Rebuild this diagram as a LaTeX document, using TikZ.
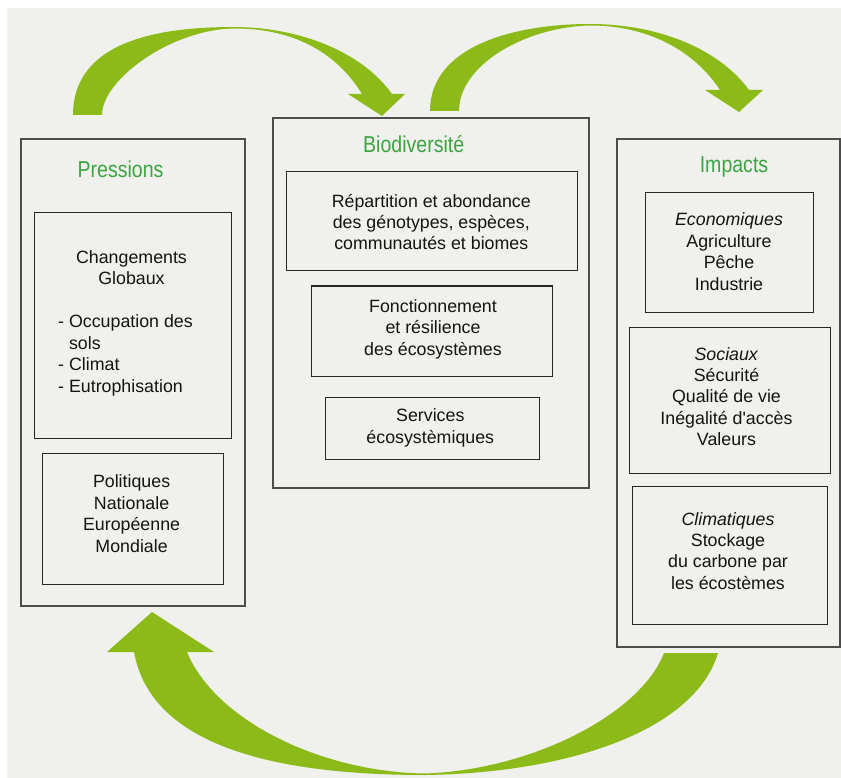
\documentclass[tikz,border=0pt]{standalone}
\usepackage{fontspec}
\setmainfont{Liberation Sans}
\newfontfamily\titlefamily{Liberation Sans}[FakeStretch=0.85]
\definecolor{bgcol}{HTML}{F0F0EC}
\definecolor{arrowgreen}{HTML}{8CBB19}
\definecolor{titlegreen}{HTML}{3DA443}
\newcommand{\bodyfont}{\fontsize{17.8}{21.4}\selectfont}
\newcommand{\ttlfont}{\titlefamily\fontsize{23}{26}\selectfont}
\begin{document}
\begin{tikzpicture}[x=1pt,y=-1pt,
  outerbox/.style={draw=black!70,line width=1.1pt,inner sep=0pt},
  innerbox/.style={draw=black!85,line width=1pt,inner sep=0pt},
  txt/.style={align=center,font=\bodyfont,inner sep=0pt,text=black!92},
  ltxt/.style={align=left,font=\bodyfont,inner sep=0pt,text=black!92,anchor=west},
  ttl/.style={font=\ttlfont,text=titlegreen,inner sep=0pt,anchor=base},
  garrow/.style={fill=arrowgreen}]
\useasboundingbox (0,0) rectangle (841,778);
\fill[bgcol] (7,8) rectangle (841,778);

% boxes
\node[outerbox,minimum width=224pt,minimum height=467pt] (pres) at (133,372.5) {};
\node[innerbox,minimum width=197pt,minimum height=225pt] (chg) at (132.5,325.5) {};
\node[innerbox,minimum width=181pt,minimum height=131pt] (pol) at (132.5,518.5) {};

\node[outerbox,minimum width=316pt,minimum height=370pt] (bio) at (431,303) {};
\node[innerbox,minimum width=291pt,minimum height=99pt] (rep) at (431.5,221.5) {};
\node[innerbox,minimum width=241pt,minimum height=90pt] (fon) at (431.5,331) {};
\node[innerbox,minimum width=214pt,minimum height=62pt] (ser) at (432,428) {};

\node[outerbox,minimum width=223pt,minimum height=508pt] (imp) at (728.5,393) {};
\node[innerbox,minimum width=168pt,minimum height=119pt] (eco) at (729,252.5) {};
\node[innerbox,minimum width=201pt,minimum height=146pt] (soc) at (729.5,400) {};
\node[innerbox,minimum width=195pt,minimum height=138pt] (cli) at (729.5,555) {};

% titles
\node[ttl] (tpres) at (120.5,178) {Pressions};
\node[ttl] (tbio) at (413.7,153) {Biodiversité};
\node[ttl] (timp) at (734,172.5) {Impacts};

% texts
\node[txt] (tchg) at (131.5,269.7) {\strut Changements\\Globaux\strut};
\node[ltxt] (tlist) at (58,355.7) {\strut - Occupation des\\\phantom{- }sols\\- Climat\\- Eutrophisation\strut};
\node[txt] (tpol) at (131.6,515.7) {\strut Politiques\\Nationale\\Européenne\\Mondiale\strut};

\node[txt] (trep) at (431.3,224.2) {\strut Répartition et abondance\\des génotypes, espèces,\\communautés et biomes\strut};
\node[txt] (tfon) at (433,329.7) {\strut Fonctionnement\\et résilience\\des écosystèmes\strut};
\node[txt] (tser) at (430.3,428.2) {\strut Services\\écosystèmiques\strut};

\node[txt] (teco) at (729,253.7) {\strut\textit{Economiques}\\Agriculture\\Pêche\\Industrie\strut};
\node[txt] (tsoc) at (726.5,398.7) {\strut\textit{Sociaux}\\Sécurité\\Qualité de vie\\Inégalité d\textquotesingle accès\\Valeurs\strut};
\node[txt] (tcli) at (728,553) {\strut\textit{Climatiques}\\Stockage\\du carbone par\\les écostèmes\strut};

% arrows
\fill[garrow] (73,115) .. controls (73,45) and (150,27) .. (233,27)
  .. controls (300,27) and (362,52) .. (392,94) -- (405,94) -- (382,116) -- (348,94) -- (362,94)
  .. controls (335,50) and (290,28) .. (233,28.5)
  .. controls (170,30) and (102,80) .. (102,115) -- cycle;
\fill[garrow] (430,111) .. controls (430,48) and (510,24) .. (590,24)
  .. controls (660,24) and (720,50) .. (749,90) -- (763,90) -- (739,112) -- (705,90) -- (720,90)
  .. controls (695,52) and (650,25.5) .. (590,25.5)
  .. controls (525,27) and (459,65) .. (459,111) -- cycle;
\fill[garrow] (718,653) .. controls (695,730) and (570,773) .. (425,775)
  .. controls (260,775) and (150,740) .. (134,652) -- (107,652) -- (152,612) -- (214,652) -- (187,652)
  .. controls (215,720) and (320,772) .. (425,773.5)
  .. controls (530,770) and (640,715) .. (664,653) -- cycle;
\end{tikzpicture}
\end{document}
